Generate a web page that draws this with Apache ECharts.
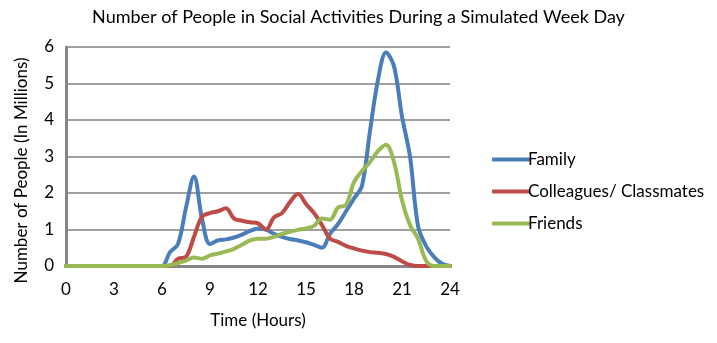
<!DOCTYPE html>
<html>
<head>
<meta charset="utf-8">
<script src="https://cdn.jsdelivr.net/npm/echarts@6/dist/echarts.min.js"></script>
<style>html,body{margin:0;padding:0;background:#fff}#c{width:717px;height:343px}</style>
</head>
<body>
<div id="c"></div>
<script>
const titleText = 'Number of People in Social Activities During a Simulated Week Day';
const xName = 'Time (Hours)';
const yName = 'Number of People (In Millions)';
const seriesNames = ['Family', 'Colleagues/ Classmates', 'Friends'];
const xTicks = [0, 3, 6, 9, 12, 15, 18, 21, 24];
const yTicks = [0, 1, 2, 3, 4, 5, 6];
const hours = [0,0.5,1,1.5,2,2.5,3,3.5,4,4.5,5,5.5,6,6.5,7,7.5,8,8.5,9,9.5,10,10.5,11,11.5,12,12.5,13,13.5,14,14.5,15,15.5,16,16.5,17,17.5,18,18.5,19,19.5,20,20.5,21,21.5,22,22.5,23,23.5,24];
const family = [0,0,0,0,0,0,0,0,0,0,0,0,0,0.38,0.6,1.6,2.45,1.3,0.6,0.7,0.73,0.78,0.86,0.96,1.03,1.0,0.88,0.8,0.74,0.7,0.65,0.58,0.5,0.88,1.15,1.5,1.85,2.2,3.7,5.1,5.85,5.47,4.1,3.0,1.1,0.55,0.25,0.06,0];
const colleagues = [0,0,0,0,0,0,0,0,0,0,0,0,0,0,0.2,0.25,0.8,1.35,1.45,1.5,1.58,1.3,1.24,1.2,1.17,1.0,1.33,1.45,1.75,1.98,1.7,1.45,1.12,0.75,0.66,0.55,0.48,0.42,0.38,0.36,0.33,0.25,0.13,0.03,0,0,0,0,0];
const friends = [0,0,0,0,0,0,0,0,0,0,0,0,0,0.02,0.08,0.15,0.23,0.2,0.29,0.34,0.4,0.47,0.58,0.7,0.75,0.75,0.8,0.88,0.94,0.99,1.03,1.1,1.3,1.27,1.6,1.67,2.3,2.6,2.85,3.15,3.32,2.85,1.8,1.12,0.75,0.15,0,0,0];
const colors = ['#4a7ebb', '#be4b48', '#98b954'];

const pair = (arr) => hours.map((h, i) => [h, arr[i]]);
const font = 'Lato, "Open Sans", sans-serif';
const chart = echarts.init(document.getElementById('c'));
chart.setOption({
  animation: false,
  textStyle: { fontFamily: font, color: '#000' },
  title: { text: titleText, left: 'center', top: 3,
    textStyle: { fontFamily: font, fontSize: 18, fontWeight: 'normal', color: '#000' } },
  grid: { left: 66, right: 267, top: 47, bottom: 77, containLabel: false },
  legend: {
    orient: 'vertical', left: 487, top: 146, itemWidth: 38, itemHeight: 4, itemGap: 15,
    icon: 'roundRect',
    textStyle: { fontFamily: font, fontSize: 17, color: '#000', padding: [0, 0, 0, -7] },
    data: seriesNames
  },
  xAxis: {
    type: 'value', min: xTicks[0], max: xTicks[xTicks.length - 1], interval: 3,
    name: xName, nameLocation: 'middle', nameGap: 46,
    nameTextStyle: { fontFamily: font, fontSize: 17, color: '#000' },
    axisLine: { lineStyle: { color: '#868686', width: 3 } },
    axisTick: { show: false },
    axisLabel: { fontFamily: font, fontSize: 17, color: '#000', margin: 15 },
    splitLine: { show: false }
  },
  yAxis: {
    type: 'value', min: yTicks[0], max: yTicks[yTicks.length - 1], interval: 1,
    name: yName, nameLocation: 'middle', nameGap: 36,
    nameTextStyle: { fontFamily: font, fontSize: 17, color: '#000', padding: [0, 28, 0, 0] },
    axisLine: { show: true, lineStyle: { color: '#868686', width: 3 } },
    axisTick: { show: false },
    axisLabel: { fontFamily: font, fontSize: 17, color: '#000', margin: 12 },
    splitLine: { lineStyle: { color: '#a0a0a0', width: 2 } }
  },
  series: [family, colleagues, friends].map((arr, i) => ({
    name: seriesNames[i], type: 'line', data: pair(arr), smooth: 0.35,
    showSymbol: false, symbol: 'none', color: colors[i],
    lineStyle: { width: 4, color: colors[i], cap: 'round', join: 'round' }
  }))
});
</script>
</body>
</html>
